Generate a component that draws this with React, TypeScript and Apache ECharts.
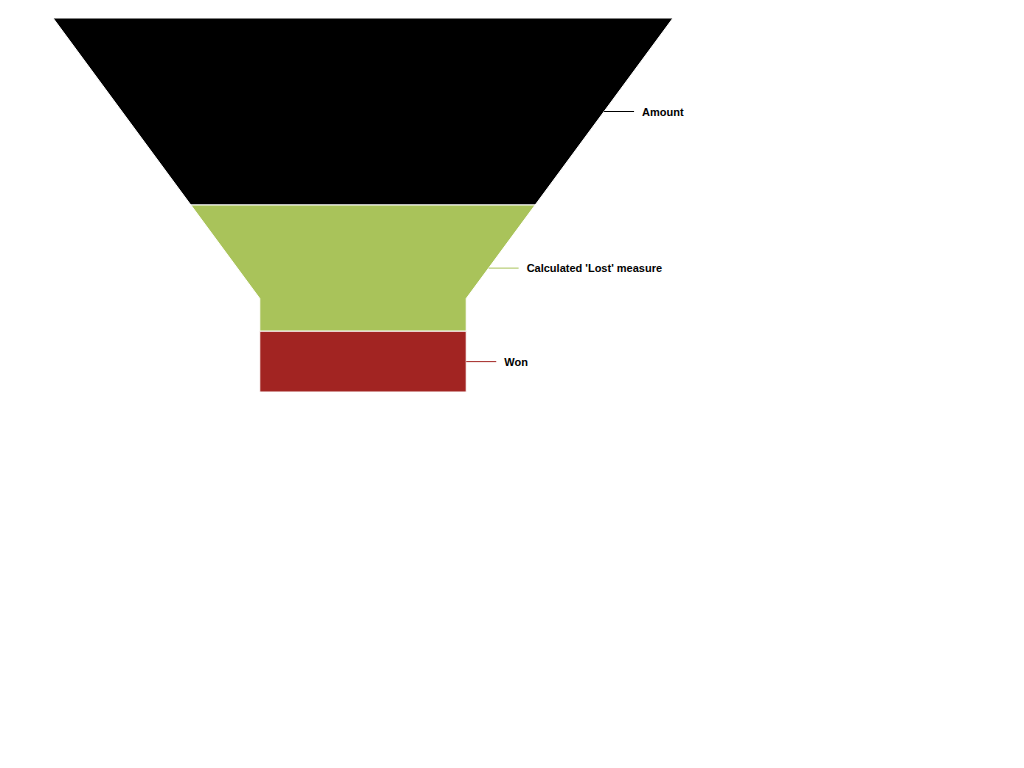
import React, { useEffect, useRef } from "react";
import * as echarts from "echarts";

const categories = ["Amount", "Calculated 'Lost' measure", "Won"];
const values = [100, 67.5, 32.5];
const colors = ["#000000", "#a9c35a", "#a22422"];
const neckWidthPct = 33.3;
const neckHeightPct = 25;

export default function App() {
  const ref = useRef<HTMLDivElement>(null);
  useEffect(() => {
    if (!ref.current) return;
    const chart = echarts.init(ref.current, null, { renderer: "svg" });
    const total = values.reduce((a, b) => a + b, 0);
    const neckY = total * (1 - neckHeightPct / 100);
    const starts: number[] = [];
    let acc = 0;
    values.forEach((v) => {
      starts.push(acc);
      acc += v;
    });
    const data = values.map((v, i) => [starts[i], starts[i] + v, i]);
    const widthAt = (y: number) =>
      y < neckY ? 100 - ((100 - neckWidthPct) * y) / neckY : neckWidthPct;

    chart.setOption({
      animation: false,
      grid: { left: 53, top: 18, width: 620, height: 374 },
      xAxis: { type: "value", min: -50, max: 50, show: false },
      yAxis: { type: "value", min: 0, max: total, inverse: true, show: false },
      series: [
        {
          type: "custom",
          data,
          renderItem: (params: any, api: any) => {
            const y0 = api.value(0);
            const y1 = api.value(1);
            const idx = params.dataIndex;
            const ys = [y0];
            if (y0 < neckY && y1 > neckY) ys.push(neckY);
            ys.push(y1);
            const right = ys.map((y) => api.coord([widthAt(y) / 2, y]));
            const left = ys
              .slice()
              .reverse()
              .map((y) => api.coord([-widthAt(y) / 2, y]));
            const points = right.concat(left);
            const midY = (y0 + y1) / 2;
            const edge = api.coord([widthAt(midY) / 2, midY]);
            const color = colors[idx];
            return {
              type: "group",
              children: [
                {
                  type: "polygon",
                  shape: { points },
                  style: { fill: color, stroke: "#ffffff", lineWidth: 1 },
                },
                {
                  type: "line",
                  shape: { x1: edge[0], y1: edge[1], x2: edge[0] + 30, y2: edge[1] },
                  style: { stroke: color, lineWidth: 1 },
                },
                {
                  type: "text",
                  x: edge[0] + 38,
                  y: edge[1],
                  style: {
                    text: categories[idx],
                    fill: "#000000",
                    font: "bold 11px 'Liberation Sans', Arial, sans-serif",
                    verticalAlign: "middle",
                    align: "left",
                  },
                },
              ],
            };
          },
        },
      ],
    });
    return () => chart.dispose();
  }, []);
  return (
    <div
      ref={ref}
      style={{ position: "fixed", left: 0, top: 0, width: 1024, height: 768, background: "#fff" }}
    />
  );
}
